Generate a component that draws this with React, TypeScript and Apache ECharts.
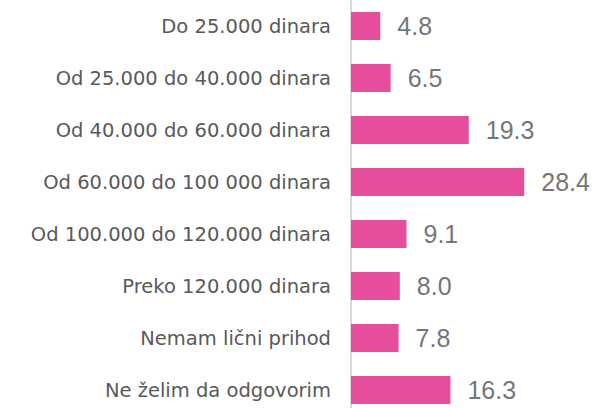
import React, { useEffect, useRef } from "react";
import * as echarts from "echarts";

const categories = [
  "Do 25.000 dinara",
  "Od 25.000 do 40.000 dinara",
  "Od 40.000 do 60.000 dinara",
  "Od 60.000 do 100 000 dinara",
  "Od 100.000 do 120.000 dinara",
  "Preko 120.000 dinara",
  "Nemam lični prihod",
  "Ne želim da odgovorim",
];
const values = [4.8, 6.5, 19.3, 28.4, 9.1, 8.0, 7.8, 16.3];

export default function App() {
  const ref = useRef<HTMLDivElement>(null);
  useEffect(() => {
    if (!ref.current) return;
    const chart = echarts.init(ref.current, undefined, { renderer: "svg" });
    chart.setOption({
      animation: false,
      grid: { left: 351, right: 63, top: 0, bottom: 0, containLabel: false },
      xAxis: {
        type: "value",
        min: 0,
        max: 30,
        show: false,
      },
      yAxis: {
        type: "category",
        data: categories,
        inverse: true,
        axisLine: { show: true, lineStyle: { color: "#d9d9d9", width: 2 } },
        axisTick: { show: false },
        axisLabel: {
          color: "#595959",
          fontSize: 19.5,
          fontFamily: "DejaVu Sans",
          margin: 20,
        },
      },
      series: [
        {
          type: "bar",
          data: values,
          barWidth: 28,
          itemStyle: { color: "#E64D9A" },
          label: {
            show: true,
            position: "right",
            distance: 17,
            color: "#767676",
            fontSize: 25,
            fontFamily: "Liberation Sans",
            formatter: (p: any) => p.value.toFixed(1),
          },
        },
      ],
    });
    return () => chart.dispose();
  }, []);
  return (
    <div style={{ position: "fixed", left: 0, top: 0, width: 597, height: 408, overflow: "hidden", background: "#fff" }}>
      <div ref={ref} style={{ width: 597, height: 416 }} />
    </div>
  );
}
